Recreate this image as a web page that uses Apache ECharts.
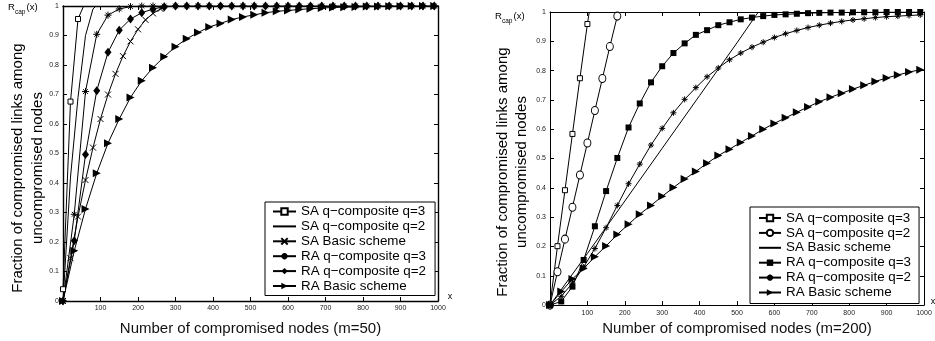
<!DOCTYPE html>
<html>
<head>
<meta charset="utf-8">
<title>Rcap(x)</title>
<script src="https://cdn.jsdelivr.net/npm/echarts@6/dist/echarts.min.js"></script>
<style>
html, body { margin: 0; padding: 0; background: #fff; }
#chart { width: 935px; height: 341px; }
</style>
</head>
<body>
<div id="chart"></div>
<script>
// legend labels (same for both panels)
var names = ['SA q\u2212composite q=3', 'SA q\u2212composite q=2', 'SA Basic scheme',
             'RA q\u2212composite q=3', 'RA q\u2212composite q=2', 'RA Basic scheme'];

var xTicks = [0, 100, 200, 300, 400, 500, 600, 700, 800, 900, 1000];
var yTicks = [0, 0.1, 0.2, 0.3, 0.4, 0.5, 0.6, 0.7, 0.8, 0.9, 1];

// sample positions: SA curves every 20 nodes, RA curves every 30
var xRA = [0, 30, 60, 90, 120, 150, 180, 210, 240, 270, 300, 330, 360, 390, 420, 450, 480,
           510, 540, 570, 600, 630, 660, 690, 720, 750, 780, 810, 840, 870, 900, 930, 960, 990];

// ---- m=50 (left) ----
var xSaQ3_50 = [0, 20, 40, 55];
var saQ3_50 = [0.04, 0.676, 0.956, 1];
var xSaQ2_50 = [0, 20, 40, 60, 80, 88];
var saQ2_50 = [0, 0.42, 0.69, 0.9, 0.99, 1];
var xSaBasic_50 = [0, 20, 40, 60, 80, 100, 120, 140, 160, 180, 200, 220, 240, 260, 278];
var saBasic_50 = [0, 0.145, 0.286, 0.41, 0.52, 0.617, 0.70, 0.77, 0.83, 0.88, 0.921, 0.953, 0.975, 0.99, 1];
var raQ3_50 = [0, 0.294, 0.71, 0.904, 0.969, 0.99, 0.998, 1, 1, 1, 1, 1, 1, 1, 1, 1, 1,
               1, 1, 1, 1, 1, 1, 1, 1, 1, 1, 1, 1, 1, 1, 1, 1, 1];
var raQ2_50 = [0, 0.204, 0.497, 0.713, 0.843, 0.918, 0.956, 0.977, 0.99, 0.997, 1, 1, 1, 1, 1, 1, 1,
               1, 1, 1, 1, 1, 1, 1, 1, 1, 1, 1, 1, 1, 1, 1, 1, 1];
var raBasic_50 = [0, 0.17, 0.312, 0.433, 0.535, 0.617, 0.69, 0.747, 0.791, 0.828, 0.862, 0.889, 0.91,
                  0.929, 0.941, 0.954, 0.963, 0.97, 0.977, 0.982, 0.985, 0.988, 0.991, 0.993, 0.995,
                  0.996, 0.997, 0.998, 0.998, 0.999, 0.999, 1, 1, 1];

// ---- m=200 (right) ----
var xSaQ3_200 = [0, 20, 40, 60, 80, 100, 105];
var saQ3_200 = [0, 0.201, 0.392, 0.584, 0.774, 0.959, 1];
var xSaQ2_200 = [0, 20, 40, 60, 80, 100, 120, 140, 160, 180, 183];
var saQ2_200 = [0, 0.114, 0.225, 0.334, 0.444, 0.553, 0.664, 0.773, 0.882, 0.986, 1];
var xSaBasic_200 = [0, 100, 200, 300, 400, 500, 557];
var saBasic_200 = [0, 0.176, 0.355, 0.535, 0.715, 0.895, 1];
var raQ3_200 = [0, 0.0125, 0.063, 0.154, 0.269, 0.389, 0.502, 0.606, 0.688, 0.76, 0.815, 0.86, 0.893,
                0.922, 0.938, 0.955, 0.965, 0.975, 0.981, 0.986, 0.99, 0.992, 0.994, 0.996, 0.997,
                0.998, 0.998, 0.999, 0.999, 0.999, 1, 1, 1, 1];
var raQ2_200 = [0, 0.03, 0.075, 0.13, 0.193, 0.264, 0.34, 0.414, 0.481, 0.546, 0.603, 0.656, 0.702,
                0.742, 0.779, 0.809, 0.837, 0.86, 0.88, 0.897, 0.913, 0.926, 0.937, 0.947, 0.955,
                0.962, 0.968, 0.973, 0.977, 0.981, 0.984, 0.986, 0.988, 0.99];
var raBasic_200 = [0, 0.046, 0.089, 0.125, 0.165, 0.202, 0.241, 0.276, 0.31, 0.34, 0.371, 0.401, 0.43,
                   0.456, 0.484, 0.51, 0.532, 0.555, 0.577, 0.6, 0.62, 0.639, 0.658, 0.676, 0.694,
                   0.709, 0.723, 0.737, 0.75, 0.763, 0.775, 0.785, 0.795, 0.803];

var FONT = '"Liberation Sans", Arial, Helvetica, sans-serif';
var X_MARK = 'path://M0,0L10,10M10,0L0,10';
var STAR = 'path://M5,0L5,10M0,5L10,5M1.6,1.6L8.4,8.4M8.4,1.6L1.6,8.4';
var TRI = 'path://M0,0L10,5L0,10Z';

var myChart = echarts.init(document.getElementById('chart'));

// pair x and y; the last point of an SA curve (where it leaves the box) gets no marker
function pts(xs, ys, lastPlain) {
  return xs.map(function (x, i) {
    if (lastPlain && i === xs.length - 1) return { value: [x, ys[i]], symbol: 'none' };
    return [x, ys[i]];
  });
}

// kind: 'plain' | 'hollow' | 'stroke' (x / asterisk) | 'solid'
function line(id, grid, data, symbol, size, kind) {
  var item;
  if (kind === 'plain') item = { color: 'rgba(0,0,0,0)', borderWidth: 0 };
  else if (kind === 'hollow') item = { color: '#fff', borderColor: '#000', borderWidth: 1 };
  else if (kind === 'stroke') item = { color: '#000', borderColor: '#000', borderWidth: 1 };
  else item = { color: '#000', borderWidth: 0 };
  return {
    id: id, name: id, type: 'line', xAxisIndex: grid * 2, yAxisIndex: grid * 2,
    data: data, symbol: symbol || 'none', symbolSize: size || 6, showSymbol: kind !== 'plain',
    showAllSymbol: true, clip: true, silent: true,
    lineStyle: { color: '#000', width: 1 },
    itemStyle: item,
    emphasis: { disabled: true }
  };
}

function xAx(grid, pos, labels) {
  return {
    type: 'value', gridIndex: grid, position: pos, min: 0, max: 1000, interval: 100,
    axisLine: { show: true, onZero: false, lineStyle: { color: '#000', width: grid === 0 ? 1.4 : 1 } },
    axisTick: { show: true, inside: true, length: 4, lineStyle: { color: '#000' } },
    axisLabel: {
      show: labels, margin: 4, fontSize: 7, color: '#222', fontFamily: FONT,
      formatter: function (v) { return v === 0 ? '' : String(v); }
    },
    splitLine: { show: false }
  };
}

function yAx(grid, pos, labels) {
  return {
    type: 'value', gridIndex: grid, position: pos, min: 0, max: 1, interval: 0.1,
    axisLine: { show: true, onZero: false, lineStyle: { color: '#000', width: grid === 0 ? 1.4 : 1 } },
    axisTick: { show: true, inside: true, length: 4, lineStyle: { color: '#000' } },
    axisLabel: {
      show: labels, margin: 4, fontSize: 7, color: '#222', fontFamily: FONT,
      formatter: function (v) { return String(Math.round(v * 10) / 10); }
    },
    splitLine: { show: false }
  };
}

function legend(ids, left, top, iconW, pad) {
  return {
    data: ids, left: left, top: top, orient: 'vertical', selectedMode: false,
    formatter: function (n) { return names[+n.slice(1) - 1]; },
    backgroundColor: '#fff', borderColor: '#000', borderWidth: 1, borderRadius: 0,
    padding: pad, itemWidth: iconW, itemHeight: 8, itemGap: 1.9,
    textStyle: { fontSize: 13.4, color: '#000', fontFamily: FONT }
  };
}

function txt(x, y, s, size, rot) {
  return {
    type: 'text', x: x, y: y, rotation: rot || 0, silent: true,
    style: { text: s, font: size + 'px ' + FONT, fill: '#000',
             textAlign: 'center', textVerticalAlign: 'middle', align: 'center', verticalAlign: 'middle' }
  };
}

function rcap(x, y) {
  return [
    { type: 'text', x: x, y: y, style: { text: 'R', font: '9.5px ' + FONT, fill: '#000', verticalAlign: 'middle', textVerticalAlign: 'middle' } },
    { type: 'text', x: x + 7, y: y + 5, style: { text: 'cap', font: '6.5px ' + FONT, fill: '#000', verticalAlign: 'middle', textVerticalAlign: 'middle' } },
    { type: 'text', x: x + 18.5, y: y, style: { text: '(x)', font: '9.5px ' + FONT, fill: '#000', verticalAlign: 'middle', textVerticalAlign: 'middle' } }
  ];
}

var option = {
  animation: false,
  backgroundColor: '#fff',
  grid: [
    { left: 63, top: 6, width: 375, height: 295 },
    { left: 550, top: 12, width: 374, height: 295 }
  ],
  xAxis: [
    Object.assign(xAx(0, 'bottom', true), {
      name: 'Number of compromised nodes (m=50)', nameLocation: 'middle', nameGap: 20,
      nameTextStyle: { fontSize: 15, color: '#111', fontFamily: FONT }
    }),
    xAx(0, 'top', false),
    Object.assign(xAx(1, 'bottom', true), {
      name: 'Number of compromised nodes (m=200)', nameLocation: 'middle', nameGap: 13,
      nameTextStyle: { fontSize: 15, color: '#111', fontFamily: FONT }
    }),
    xAx(1, 'top', false)
  ],
  yAxis: [
    yAx(0, 'left', true), yAx(0, 'right', false),
    yAx(1, 'left', true), yAx(1, 'right', false)
  ],
  legend: [
    legend(['L1', 'L2', 'L3', 'L4', 'L5', 'L6'], 265, 202, 23, [3, 9, 3, 7]),
    legend(['R1', 'R2', 'R3', 'R4', 'R5', 'R6'], 750, 207, 22, [4.5, 8, 4.5, 8])
  ],
  graphic: [
    txt(18, 168, 'Fraction of compromised links among', 15, Math.PI / 2),
    txt(38, 168, 'uncompromised nodes', 15, Math.PI / 2),
    txt(503, 172, 'Fraction of compromised links among', 15, Math.PI / 2),
    txt(522, 172, 'uncompromised nodes', 15, Math.PI / 2),
    txt(450, 297, 'x', 9),
    txt(933, 302, 'x', 9)
  ].concat(rcap(8, 7), rcap(495, 16)),
  series: [
    line('L1', 0, pts(xSaQ3_50, saQ3_50, true), 'rect', 5, 'hollow'),
    line('L2', 0, pts(xSaQ2_50, saQ2_50, false), null, 0, 'plain'),
    line('L3', 0, pts(xSaBasic_50, saBasic_50, true), X_MARK, 6, 'stroke'),
    line('L4', 0, pts(xRA, raQ3_50), STAR, 7, 'stroke'),
    line('L5', 0, pts(xRA, raQ2_50), 'diamond', [7, 9], 'solid'),
    line('L6', 0, pts(xRA, raBasic_50), TRI, 8, 'solid'),

    line('R1', 1, pts(xSaQ3_200, saQ3_200, true), 'rect', 5, 'hollow'),
    line('R2', 1, pts(xSaQ2_200, saQ2_200, true), 'circle', [7, 8], 'hollow'),
    line('R3', 1, pts(xSaBasic_200, saBasic_200, false), null, 0, 'plain'),
    line('R4', 1, pts(xRA, raQ3_200), 'rect', 6, 'solid'),
    line('R5', 1, pts(xRA, raQ2_200), STAR, 6, 'stroke'),
    line('R6', 1, pts(xRA, raBasic_200), TRI, 8, 'solid')
  ]
};

myChart.setOption(option);
</script>
</body>
</html>
